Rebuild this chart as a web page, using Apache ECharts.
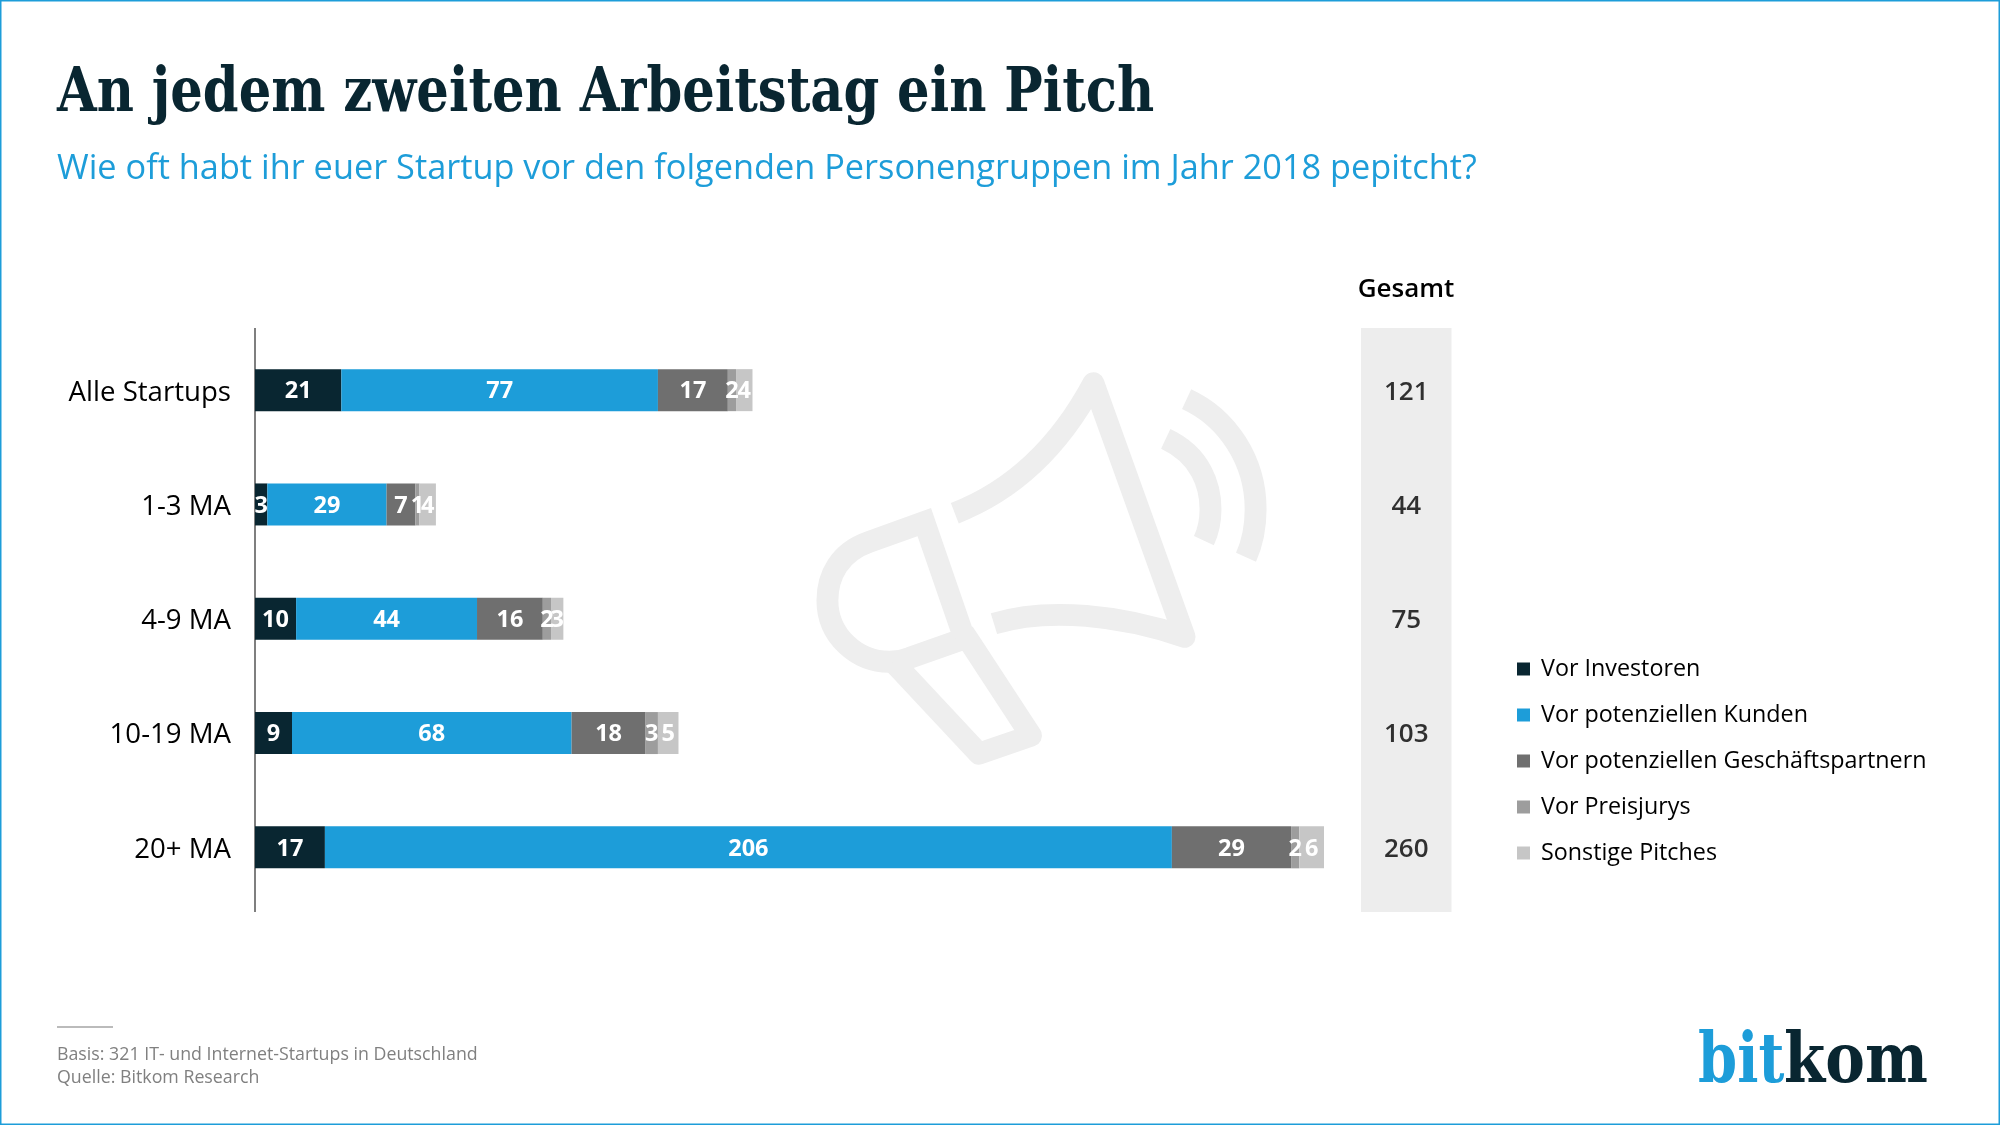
<!DOCTYPE html>
<html><head><meta charset="utf-8">
<style>html,body{margin:0;padding:0;background:#fff}#c{width:2000px;height:1125px}</style>
<script src="https://cdn.jsdelivr.net/npm/echarts@6/dist/echarts.min.js"></script>
</head><body><div id="c"></div>
<script>
const categories = ['Alle Startups','1-3 MA','4-9 MA','10-19 MA','20+ MA'];
const seriesNames = ['Vor Investoren','Vor potenziellen Kunden','Vor potenziellen Geschäftspartnern','Vor Preisjurys','Sonstige Pitches'];
const investoren = [21,3,10,9,17];
const kunden = [77,29,44,68,206];
const partner = [17,7,16,18,29];
const jurys = [2,1,2,3,2];
const sonstige = [4,4,3,5,6];
const totals = [121,44,75,103,260];
const colors = ['#092631','#1d9dd9','#6f6f6f','#9d9d9d','#c6c6c6'];
const seriesValues = [investoren,kunden,partner,jurys,sonstige];
const SANS = '"Open Sans"';
const SLAB = '"DejaVu Serif Condensed","DejaVu Serif"';
const chart = echarts.init(document.getElementById('c'),null,{renderer:'canvas'});
const megaStyle = {fill:'none',stroke:'#eeeeee',lineWidth:66,lineJoin:'round',lineCap:'butt'};
const megaPaths = [
 'M435,519 L268,579 C180,610 143,680 143,755 C143,860 230,940 330,940 C355,940 375,935 392,928 L556,870 Z',
 'M340,940 L365,966 L600,1217 L757,1163 L575,885 L553,852',
 'M527,492 Q790,390 945,100 L1220,865 C1030,800 810,775 645,825',
 'M1163,268 C1270,318 1298,410 1298,480 C1298,515 1292,545 1278,575',
 'M1226,148 C1350,205 1434,335 1434,480 C1434,535 1425,580 1405,625'
];
megaPaths.forEach((d,i)=>echarts.graphic.registerShape('mega'+i,echarts.graphic.extendPath(d,{})));
chart.setOption({
 animation:false,
 backgroundColor:'#ffffff',
 textStyle:{fontFamily:SANS},
 title:[
  {text:'Wie oft habt ihr euer Startup vor den folgenden Personengruppen im Jahr 2018 pepitcht?',left:57,top:152,padding:0,
   textStyle:{fontFamily:SANS,fontWeight:'normal',fontSize:34.3,color:'#1d9dd9'}},
  {text:'Gesamt',left:1406,textAlign:'center',top:277,padding:0,
   textStyle:{fontFamily:SANS,fontWeight:600,fontSize:26,color:'#000'}}
 ],
 legend:{orient:'vertical',left:1512,top:648,itemWidth:13,itemHeight:13,itemGap:14,icon:'rect',
  data:seriesNames,selectedMode:false,
  textStyle:{fontFamily:SANS,fontSize:23.3,color:'#000',lineHeight:32,padding:[0,0,0,6]}},
 grid:[
  {left:255,top:333,width:1069,height:571.5},
  {left:1361,top:333,width:90.5,height:571.5}
 ],
 xAxis:[
  {gridIndex:0,type:'value',min:0,max:260,show:false},
  {gridIndex:1,type:'value',min:0,max:1,show:false}
 ],
 yAxis:[
  {gridIndex:0,type:'category',data:categories,inverse:true,
   axisLine:{show:false},axisTick:{show:false},
   axisLabel:{margin:24,formatter:'{a|{value}}',
    rich:{a:{fontFamily:SANS,fontSize:27.6,color:'#000',lineHeight:38,padding:[5,0,0,0]}}}},
  {gridIndex:1,type:'category',data:categories,inverse:true,show:false}
 ],
 series:[
  ...seriesNames.map((name,i)=>({
   name,type:'bar',stack:'a',xAxisIndex:0,yAxisIndex:0,barWidth:42,
   data:seriesValues[i],
   itemStyle:{color:colors[i]},
   label:{show:true,position:'inside',offset:[0,1.5],color:'#fff',fontFamily:SANS,fontWeight:'bold',fontSize:23.5}
  })),
  {name:'Gesamt',type:'scatter',xAxisIndex:1,yAxisIndex:1,symbolSize:1,
   itemStyle:{color:'#ededed'},z:5,
   data:totals.map((t,i)=>[0.5,categories[i],t]),
   label:{show:true,position:'inside',offset:[0,2],color:'#000',fontFamily:SANS,fontWeight:600,fontSize:26,
    formatter:p=>String(p.value[2])}}
 ],
 graphic:[
  {type:'rect',z:-1,silent:true,shape:{x:1361,y:328,width:90.5,height:584},style:{fill:'#ededed'}},
  {type:'line',z:1,silent:true,shape:{x1:255,y1:328,x2:255,y2:912},style:{stroke:'#555',lineWidth:1.5}},
  {type:'rect',z:10,silent:true,shape:{x:0,y:0,width:2000,height:1125},style:{fill:'none',stroke:'#1d9dd9',lineWidth:3}},
  {type:'group',x:780,y:350,scaleX:1/3.015,scaleY:1/3.015,z:-1,silent:true,
   children:megaPaths.map((d,i)=>({type:'mega'+i,style:i===0?{...megaStyle,lineJoin:'miter'}:megaStyle}))},
  {type:'text',silent:true,x:57,y:95,scaleX:0.933,style:{text:'An jedem zweiten Arbeitstag ein Pitch',font:'bold 61px '+SLAB,fill:'#092631',align:'left',verticalAlign:'middle'}},
  {type:'line',silent:true,shape:{x1:57,y1:1027,x2:113,y2:1027},style:{stroke:'#bbbbbb',lineWidth:2}},
  {type:'text',silent:true,x:57,y:1054.5,style:{text:'Basis: 321 IT- und Internet-Startups in Deutschland',font:'17.8px '+SANS,fill:'#808080',align:'left',verticalAlign:'middle'}},
  {type:'text',silent:true,x:57,y:1077.5,style:{text:'Quelle: Bitkom Research',font:'17.8px '+SANS,fill:'#808080',align:'left',verticalAlign:'middle'}},
  {type:'text',silent:true,x:1698,y:1064,scaleX:0.8,style:{text:'bit',font:'bold 70px "DejaVu Serif"',fill:'#1d9dd9',align:'left',verticalAlign:'middle'}},
  {type:'text',silent:true,x:1784,y:1064,scaleX:0.85,style:{text:'kom',font:'bold 70px "DejaVu Serif"',fill:'#092631',align:'left',verticalAlign:'middle'}}
 ]
});
</script></body></html>
